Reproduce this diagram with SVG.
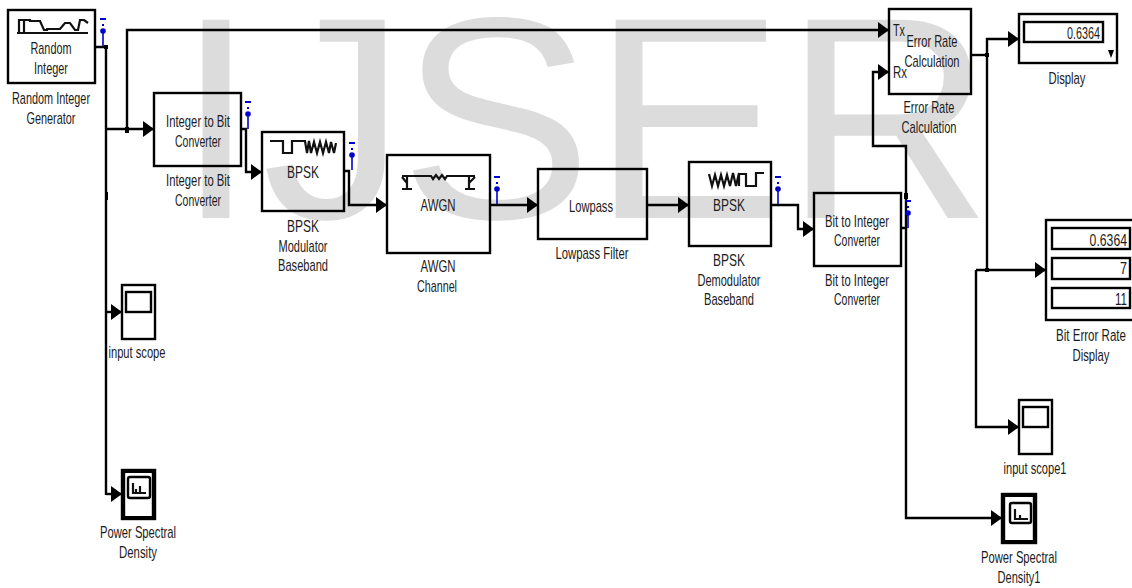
<svg xmlns="http://www.w3.org/2000/svg" width="1132" height="588" viewBox="0 0 1132 588">
<style>
text{font-family:"Liberation Sans",Arial,sans-serif;font-size:17px;fill:#1c1c1c;text-anchor:middle}
.r{text-anchor:end}
.s{text-anchor:start}
.wm{font-size:288px;fill:#dcdcdc;text-anchor:start}
.b{fill:none;stroke:#000;stroke-width:2.4}
.t{fill:none;stroke:#000;stroke-width:4}
.i{fill:none;stroke:#111;stroke-width:2.2}
.c{fill:none;stroke:#000;stroke-width:2.4}
.a{marker-end:url(#arr)}
.p{fill:none;stroke:#00c;stroke-width:1.6}
.pd{fill:#00c}
.j{fill:#000}
</style>
<defs>
<marker id="arr" markerUnits="userSpaceOnUse" markerWidth="12" markerHeight="17" refX="11" refY="8" orient="auto"><path d="M0 0L11 8L0 16Z" fill="#000"/></marker>
<g id="probe"><rect x="-3" y="0" width="6" height="2" class="pd"/><rect x="-1" y="6" width="2" height="2" class="pd"/><circle cx="0" cy="13" r="2.8" class="pd"/><path d="M0 13V28" class="p"/></g>
</defs>
<text id="watermark" class="wm" x="176 262 400 592 784" y="218">IJSER</text>
<g id="connectors">
<path class="c" d="M95 47H106V495"/>
<path class="c a" d="M106 129H154"/>
<path class="c a" d="M127 130V30H889"/>
<path class="c a" d="M106 312H122"/>
<path class="c a" d="M106 494H122"/>
<path class="c a" d="M241 129H246V172H262"/>
<path class="c a" d="M344 171H349V205H387"/>
<path class="c a" d="M490 205H538"/>
<path class="c a" d="M647 205H689"/>
<path class="c a" d="M771 205H798V229H814"/>
<path class="c a" d="M901 228H906V146H873V72H889"/>
<path class="c a" d="M906 228V518H1002"/>
<path class="c" d="M971 55H987"/>
<path class="c a" d="M987 270V39H1019"/>
<path class="c a" d="M976 270H1046"/>
<path class="c a" d="M976 270V427H1019"/>
<rect class="j" x="104" y="45" width="4" height="4"/>
<rect class="j" x="105" y="192" width="3" height="8"/>
<rect class="j" x="125" y="127" width="4" height="6"/>
<rect class="j" x="985" y="53" width="4" height="4"/>
<rect class="j" x="985" y="268" width="4" height="4"/>
<rect class="j" x="904" y="193" width="4" height="6"/>
<use href="#probe" x="103" y="18"/>
<use href="#probe" x="248" y="101"/>
<use href="#probe" x="352" y="142"/>
<use href="#probe" x="497" y="176"/>
<use href="#probe" x="778" y="176"/>
<use href="#probe" x="908" y="200"/>
</g>
<g id="random-integer">
<rect class="b" x="8" y="10" width="87" height="73"/>
<path class="i" d="M17 33H88M19 33V20H24V33M24 20H30V21H40L44 30H47V29H60L65 23H70L75 30H78L80 20H84L88 23"/>
<text x="51" y="54" textLength="41" lengthAdjust="spacingAndGlyphs">Random</text>
<text x="51" y="74" textLength="34" lengthAdjust="spacingAndGlyphs">Integer</text>
<text x="51" y="104" textLength="78" lengthAdjust="spacingAndGlyphs">Random Integer</text>
<text x="51" y="124" textLength="49" lengthAdjust="spacingAndGlyphs">Generator</text>
</g>
<g id="integer-to-bit">
<rect class="b" x="154" y="93" width="87" height="73"/>
<text x="198" y="127" textLength="64" lengthAdjust="spacingAndGlyphs">Integer to Bit</text>
<text x="198" y="147" textLength="46" lengthAdjust="spacingAndGlyphs">Converter</text>
<text x="198" y="186" textLength="64" lengthAdjust="spacingAndGlyphs">Integer to Bit</text>
<text x="198" y="206" textLength="46" lengthAdjust="spacingAndGlyphs">Converter</text>
</g>
<g id="bpsk-modulator">
<rect class="b" x="262" y="132" width="82" height="79"/>
<path class="i" d="M270 141H283V153H292V141H305L307 153L309 141L311 153L314 142L317 153L320 142L323 153L326 142L329 153L331 142L334 153L336 143"/>
<text x="303" y="178" textLength="32" lengthAdjust="spacingAndGlyphs">BPSK</text>
<text x="303" y="232" textLength="32" lengthAdjust="spacingAndGlyphs">BPSK</text>
<text x="303" y="252" textLength="49" lengthAdjust="spacingAndGlyphs">Modulator</text>
<text x="303" y="271" textLength="50" lengthAdjust="spacingAndGlyphs">Baseband</text>
</g>
<g id="awgn-channel">
<rect class="b" x="387" y="155" width="103" height="98"/>
<path class="i" d="M402 176H431L433 179L436 175L439 179L442 175L445 179L447 176H475M407 177V189M402 189H412M402 177L407 183M469 177V189M465 189H475M475 177L469 183"/>
<text x="438" y="211" textLength="35" lengthAdjust="spacingAndGlyphs">AWGN</text>
<text x="438" y="272" textLength="35" lengthAdjust="spacingAndGlyphs">AWGN</text>
<text x="437" y="292" textLength="40" lengthAdjust="spacingAndGlyphs">Channel</text>
</g>
<g id="lowpass-filter">
<rect class="b" x="538" y="169" width="109" height="70"/>
<text x="591" y="212" textLength="44" lengthAdjust="spacingAndGlyphs">Lowpass</text>
<text x="592" y="259" textLength="73" lengthAdjust="spacingAndGlyphs">Lowpass Filter</text>
</g>
<g id="bpsk-demodulator">
<rect class="b" x="689" y="162" width="82" height="84"/>
<path class="i" d="M709 174L712 186L715 175L718 186L721 175L724 186L727 175L730 186L733 173L736 186L739 173V186M739 174H746V186H756V173H764"/>
<text x="729" y="211" textLength="32" lengthAdjust="spacingAndGlyphs">BPSK</text>
<text x="729" y="266" textLength="32" lengthAdjust="spacingAndGlyphs">BPSK</text>
<text x="729" y="286" textLength="63" lengthAdjust="spacingAndGlyphs">Demodulator</text>
<text x="729" y="305" textLength="50" lengthAdjust="spacingAndGlyphs">Baseband</text>
</g>
<g id="bit-to-integer">
<rect class="b" x="814" y="193" width="87" height="73"/>
<text x="857" y="227" textLength="64" lengthAdjust="spacingAndGlyphs">Bit to Integer</text>
<text x="857" y="246" textLength="46" lengthAdjust="spacingAndGlyphs">Converter</text>
<text x="857" y="286" textLength="64" lengthAdjust="spacingAndGlyphs">Bit to Integer</text>
<text x="857" y="305" textLength="46" lengthAdjust="spacingAndGlyphs">Converter</text>
</g>
<g id="error-rate-calculation">
<rect class="b" x="889" y="9" width="82" height="85"/>
<text class="s" x="893" y="36" textLength="12" lengthAdjust="spacingAndGlyphs">Tx</text>
<text class="s" x="893" y="78" textLength="14" lengthAdjust="spacingAndGlyphs">Rx</text>
<text x="932" y="47" textLength="51" lengthAdjust="spacingAndGlyphs">Error Rate</text>
<text x="932" y="67" textLength="55" lengthAdjust="spacingAndGlyphs">Calculation</text>
<text x="929" y="113" textLength="51" lengthAdjust="spacingAndGlyphs">Error Rate</text>
<text x="929" y="133" textLength="55" lengthAdjust="spacingAndGlyphs">Calculation</text>
</g>
<g id="display">
<rect class="b" x="1019" y="14" width="98" height="49"/>
<rect class="b" x="1024" y="22" width="79" height="20"/>
<text class="r" x="1100" y="39" textLength="33" lengthAdjust="spacingAndGlyphs">0.6364</text>
<path d="M1108 50H1114L1111 58Z" fill="#000"/>
<text x="1067" y="84" textLength="37" lengthAdjust="spacingAndGlyphs">Display</text>
</g>
<g id="bit-error-rate-display">
<rect class="b" x="1046" y="220" width="100" height="100"/>
<rect class="b" x="1052" y="228" width="78" height="21"/>
<rect class="b" x="1052" y="258" width="78" height="21"/>
<rect class="b" x="1052" y="288" width="78" height="20"/>
<text class="r" transform="translate(1127 246) scale(.72 1)">0.6364</text>
<text class="r" x="1127" y="274" textLength="7" lengthAdjust="spacingAndGlyphs">7</text>
<text class="r" x="1127" y="305" textLength="12" lengthAdjust="spacingAndGlyphs">11</text>
<text transform="translate(1091 341) scale(.68 1)">Bit Error Rate</text>
<text x="1091" y="361" textLength="37" lengthAdjust="spacingAndGlyphs">Display</text>
</g>
<g id="input-scope1">
<rect class="b" x="1019" y="400" width="33" height="54"/>
<rect class="b" x="1023" y="407" width="25" height="20"/>
<text x="1035" y="474" textLength="63" lengthAdjust="spacingAndGlyphs">input scope1</text>
</g>
<g id="power-spectral-density1">
<rect class="b" x="1002" y="494" width="34" height="49"/>
<path class="t" d="M1002 495H1036M1002 542H1036"/>
<path class="b" d="M1004 494V543M1034 494V543"/>
<rect class="b" x="1010" y="503" width="21" height="20" rx="2"/>
<path class="i" d="M1015 520V509M1015 519H1028M1020 520V515"/>
<text x="1019" y="563" textLength="76" lengthAdjust="spacingAndGlyphs">Power Spectral</text>
<text x="1019" y="583" textLength="43" lengthAdjust="spacingAndGlyphs">Density1</text>
</g>
<g id="input-scope">
<rect class="b" x="122" y="285" width="33" height="54"/>
<rect class="b" x="126" y="292" width="25" height="20"/>
<text x="137" y="358" textLength="57" lengthAdjust="spacingAndGlyphs">input scope</text>
</g>
<g id="power-spectral-density">
<rect class="b" x="122" y="470" width="33" height="49"/>
<path class="t" d="M122 471H155M122 518H155"/>
<path class="b" d="M124 470V519M153 470V519"/>
<rect class="b" x="128" y="477" width="22" height="21" rx="2"/>
<path class="i" d="M133 494V483M133 493H146M136 494V489M140 494V486"/>
<text x="138" y="538" textLength="76" lengthAdjust="spacingAndGlyphs">Power Spectral</text>
<text x="138" y="558" textLength="38" lengthAdjust="spacingAndGlyphs">Density</text>
</g>
</svg>
